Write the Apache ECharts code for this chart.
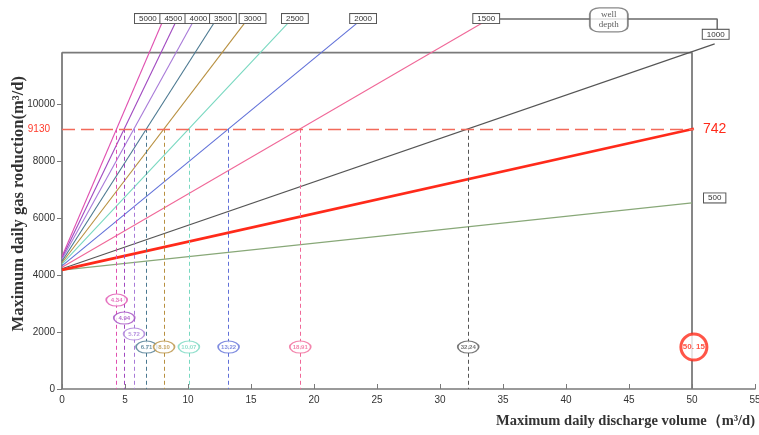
<!DOCTYPE html>
<html>
<head>
<meta charset="utf-8">
<script src="https://cdn.jsdelivr.net/npm/echarts@6/dist/echarts.min.js"></script>
<style>html,body{margin:0;padding:0;background:#fff;}#c{width:759px;height:435px;}</style>
</head>
<body>
<div id="c"></div>
<script>
// ---- data ----
const depthLabels   = ['5000','4500','4000','3500','3000','2500','2000','1500','1000','742','500'];
const startGas      = [4650, 4600, 4550, 4480, 4430, 4380, 4320, 4270, 4220, 4180, 4170];
const endDischarge  = [7.93, 8.99, 10.35, 12.06, 14.49, 17.93, 23.42, 33.35, 51.8, 50.15, 50];
const endGas        = [12840,12840,12840,12840,12840,12840,12840,12840,12110, 9130, 6530];
const crossDischarge= [4.34, 4.94, 5.72, 6.71, 8.10, 10.07, 13.22, 18.91, 32.24, 50.15, null];
const crossLabels   = ['4.34','4.94','5.72','6.71','8.10','10.07','13.22','18.91','32.24','50. 15', null];
const ellipseGas    = [3120, 2490, 1930, 1470, 1470, 1470, 1470, 1470, 1470, 1470, null];
const criticalGas   = 9130;
const xTickValues   = [0,5,10,15,20,25,30,35,40,45,50,55];
const yTickValues   = [0,2000,4000,6000,8000,10000];
const boxPath       = [[0,0],[0,11800],[50,11800],[50,0]];
const bracketPath   = [[34.6,12982],[52.0,12982],[52.0,12632]];
const bracketBox    = [43.4,12950];

// ---- styles ----
const colors = ['#e050b0','#a048c0','#a87ad8','#4a7890','#b89040','#78d8c0','#6070d8','#f06898','#555555','#ff2a1a','#88a878'];
const labelOffsetX = [-14,-2,6,9,8,7,6,4,1,0,0];
const serif = '"Liberation Serif","DejaVu Serif",serif';
const sans = '"Liberation Sans",Arial,sans-serif';

const chart = echarts.init(document.getElementById('c'), null, {renderer:'canvas'});

const series = [];
series.push({
  type:'line', data: boxPath, symbol:'none', silent:true, z:1,
  lineStyle:{color:'#7a7a7a', width:1.8}
});
series.push({
  type:'line', data: bracketPath, symbol:'none', silent:true, z:1,
  lineStyle:{color:'#6a6a6a', width:1.5}
});

depthLabels.forEach((d,i)=>{
  const isRed = d === '742';
  let lbl;
  if (d === '742') {
    lbl = {show:true, position:'right', distance:9, formatter:d, color:'#ff2a1a', fontSize:14, fontFamily:sans};
  } else if (d === '500') {
    lbl = {show:true, position:'right', distance:12, offset:[0,-5], formatter:d, color:'#333', fontSize:8, fontFamily:sans,
      backgroundColor:'#fff', borderColor:'#555', borderWidth:1, padding:[1,4,0,4], lineHeight:8};
  } else {
    lbl = {show:true, position:'top', distance: d==='1000'?5:0, offset:[labelOffsetX[i],0], formatter:d, color:'#333', fontSize:8, fontFamily:sans,
      backgroundColor:'#fff', borderColor:'#555', borderWidth:1, padding:[1,4,0,4], lineHeight:8};
  }
  const s = {
    type:'line', name:d, symbol:'circle', symbolSize:0, showSymbol:true, silent:true, z: isRed?4:3,
    lineStyle:{color:colors[i], width: isRed?2.6:1.1},
    itemStyle:{color:colors[i]},
    data:[[0,startGas[i]], {value:[endDischarge[i], endGas[i]], label:lbl}]
  };
  if (crossDischarge[i] !== null && !isRed) {
    s.markLine = {
      silent:true, symbol:['none','none'], label:{show:false},
      lineStyle:{color:colors[i], type:[4,3], width:1},
      data:[[{coord:[crossDischarge[i], criticalGas]},{coord:[crossDischarge[i], 0]}]]
    };
  }
  if (isRed) {
    s.markLine = {
      silent:true, symbol:['none','none'],
      lineStyle:{color:'#f26a5a', type:[13,6], width:1.3},
      label:{show:true, position:'start', distance:12, formatter: String(criticalGas), color:'#ff3a2a', fontSize:10, fontFamily:sans},
      data:[[{coord:[0, criticalGas]},{coord:[crossDischarge[i], criticalGas]}]]
    };
  }
  series.push(s);
});

// ellipse labels
const ellipseData = [];
crossDischarge.forEach((x,i)=>{
  if (x === null) return;
  const isRed = depthLabels[i] === '742';
  ellipseData.push({
    value:[x, ellipseGas[i]],
    symbolSize: isRed ? 26 : [21,12],
    itemStyle:{color:'#fff', borderColor:colors[i], borderWidth: isRed?3:1.3},
    label:{show:true, position:'inside', formatter: crossLabels[i], color:colors[i],
      fontSize: isRed?8:6, fontWeight: 'bold', fontFamily:sans}
  });
});
series.push({type:'scatter', symbol:'circle', data: ellipseData, silent:true, z:6});

series.push({
  type:'scatter', symbol:'roundRect', symbolSize:[38,24], silent:true, z:6,
  itemStyle:{color:'#fff', borderColor:'#6a6a6a', borderWidth:1.5},
  label:{show:true, position:'inside', formatter:'well\ndepth', color:'#333', fontSize:9, lineHeight:10, fontFamily:serif},
  data:[bracketBox]
});

chart.setOption({
  animation:false,
  backgroundColor:'#fff',
  grid:{left:62, right:4, top:18.5, bottom:46, containLabel:false, outerBoundsMode:'none'},
  xAxis:{
    type:'value', min:0, max:55, interval:5,
    axisLine:{show:true, lineStyle:{color:'#7a7a7a', width:1.6}},
    axisTick:{show:true, inside:true, length:5, lineStyle:{color:'#7a7a7a'}, customValues:xTickValues},
    axisLabel:{color:'#333', fontSize:10, fontFamily:sans, margin:6, customValues:xTickValues},
    splitLine:{show:false},
    name:'Maximum daily discharge volume（m³/d)',
    nameLocation:'end', nameGap:0, nameMoveOverlap:false,
    nameTextStyle:{align:'right', verticalAlign:'top', padding:[25,0,0,0], color:'#333', fontSize:14.5, fontWeight:'bold', fontFamily:serif}
  },
  yAxis:{
    type:'value', min:0, max:13000, interval:1000,
    axisLine:{show:false},
    axisTick:{show:true, inside:false, length:5, lineStyle:{color:'#7a7a7a'}, customValues:yTickValues},
    axisLabel:{color:'#333', fontSize:10, fontFamily:sans, margin:7, customValues:yTickValues, formatter:(v)=>String(v)},
    splitLine:{show:false},
    name:'Maximum daily gas roduction(m³/d)',
    nameLocation:'middle', nameRotate:90, nameGap:35, nameMoveOverlap:false,
    nameTextStyle:{color:'#333', fontSize:16.5, fontWeight:'bold', fontFamily:serif}
  },
  series: series
});
</script>
</body>
</html>
